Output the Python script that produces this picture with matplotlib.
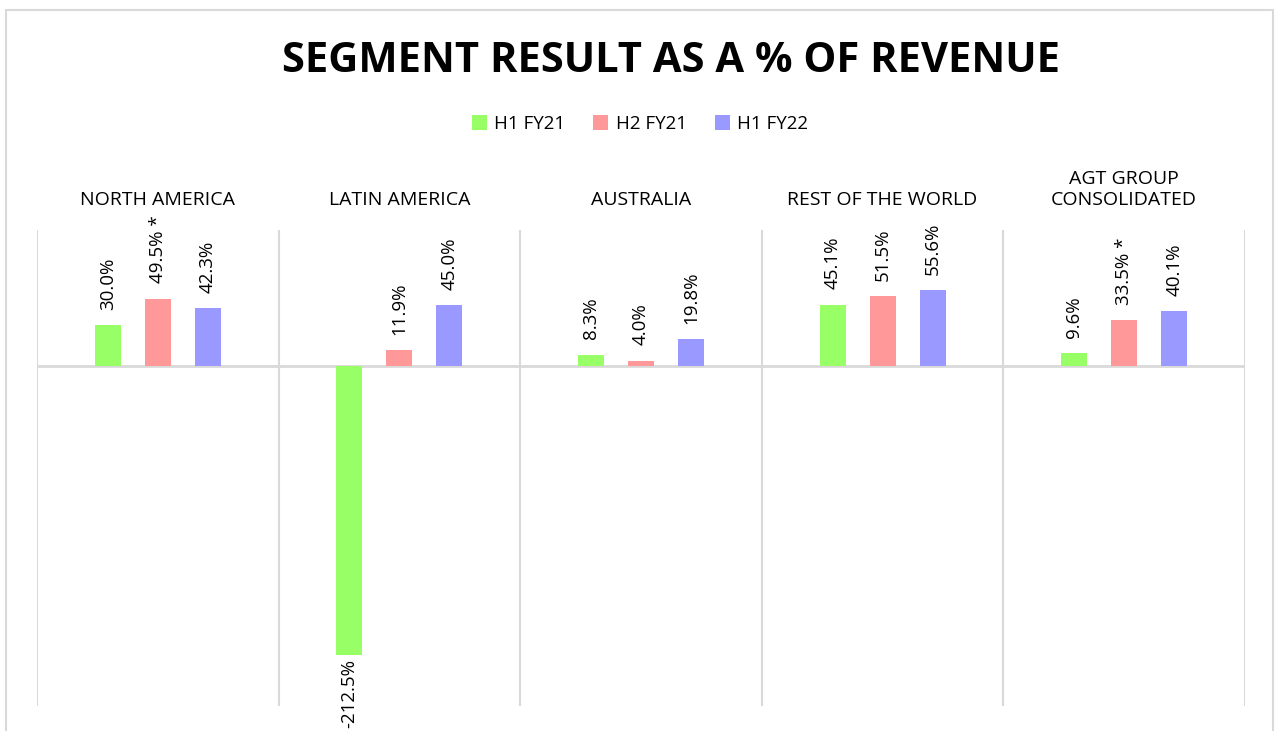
import matplotlib
matplotlib.use("Agg")
import matplotlib.pyplot as plt
from matplotlib.patches import Rectangle
import numpy as np

categories = ["NORTH AMERICA", "LATIN AMERICA", "AUSTRALIA", "REST OF THE WORLD", "AGT GROUP\nCONSOLIDATED"]
series_names = ["H1 FY21", "H2 FY21", "H1 FY22"]
h1_fy21 = [30.0, -212.5, 8.3, 45.1, 9.6]
h2_fy21 = [49.5, 11.9, 4.0, 51.5, 33.5]
h1_fy22 = [42.3, 45.0, 19.8, 55.6, 40.1]
starred = [(1, 0), (1, 4)]  # (series index, category index) with asterisk

colors = ["#99FF66", "#FF9999", "#9999FF"]
plt.rcParams['font.family'] = ['Open Sans', 'DejaVu Sans']

fig = plt.figure(figsize=(12.78, 7.31), dpi=100)
W, H = 1278, 731
# outer border
fig.patches.append(Rectangle((6 / W, -0.1), (1273 - 6) / W, 1.1 - 10 / H,
                             transform=fig.transFigure, fill=False,
                             edgecolor="#D9D9D9", linewidth=1.5))

ax = fig.add_axes([37 / W, (H - 706) / H, (1245 - 37) / W, (706 - 230) / H])
ax.set_xlim(0, len(categories))
ax.set_ylim(-250, 100)

x = np.arange(len(categories)) + 0.5
offs = [-0.207, 0.0, 0.207]
width = 0.107
all_series = [h1_fy21, h2_fy21, h1_fy22]
for si, (vals, col, name) in enumerate(zip(all_series, colors, series_names)):
    bars = ax.bar(x + offs[si], vals, width, color=col, label=name, zorder=3)
    for ci, (b, v) in enumerate(zip(bars, vals)):
        txt = f"{v:.1f}%"
        if (si, ci) in starred:
            txt = txt + " *"
        if v >= 0:
            ax.annotate(txt, (b.get_x() + b.get_width() / 2, v), xytext=(0, 11),
                        textcoords="offset points", rotation=90, ha="center",
                        va="bottom", fontsize=13.5, color="black", zorder=4)
        else:
            ax.annotate(txt, (b.get_x() + b.get_width() / 2, v), xytext=(0, -3),
                        textcoords="offset points", rotation=90, ha="center",
                        va="top", fontsize=13.5, color="black", zorder=4,
                        annotation_clip=False)

# panel separators
for i in range(len(categories) + 1):
    ax.axvline(i, color="#D9D9D9", linewidth=1.5, zorder=1)
ax.axhline(0, color="#D9D9D9", linewidth=2, zorder=2)

for s in ax.spines.values():
    s.set_visible(False)
ax.set_xticks([])
ax.set_yticks([])

for i, c in enumerate(categories):
    ax.text(x[i] / len(categories), 1.045, c, transform=ax.transAxes,
            ha="center", va="bottom", fontsize=14, multialignment="center",
            linespacing=1.2, color="#000000")

fig.text(671 / W, 1 - 62 / H, "SEGMENT RESULT AS A % OF REVENUE", ha="center",
         va="center", fontsize=30, fontweight="bold", color="#000000")

handles, labels = ax.get_legend_handles_labels()
fig.legend(handles, labels, loc="center", bbox_to_anchor=(640 / W, 1 - 124 / H),
           ncol=3, frameon=False, fontsize=13.5, handlelength=0.8, handleheight=0.8,
           handletextpad=0.4, columnspacing=1.5)

fig.savefig("out.png", dpi=100)
